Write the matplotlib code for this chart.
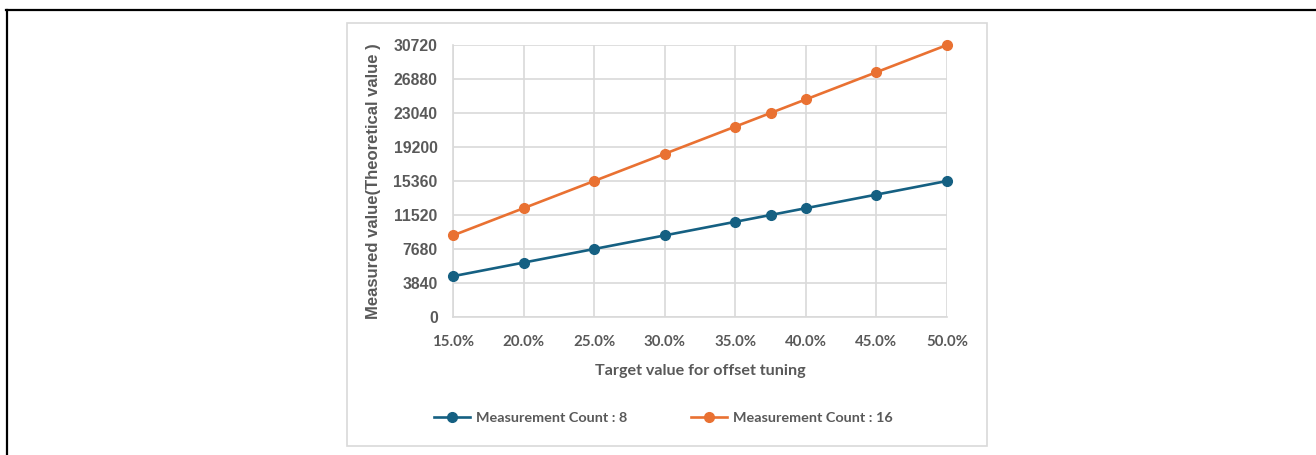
import matplotlib
matplotlib.use("Agg")
import matplotlib.pyplot as plt
from matplotlib.patches import Rectangle
from matplotlib.lines import Line2D
from matplotlib.ticker import FuncFormatter

# target ratio (%) and theoretical measured values
target = [15.0, 20.0, 25.0, 30.0, 35.0, 37.5, 40.0, 45.0, 50.0]
count8 = [4608, 6144, 7680, 9216, 10752, 11520, 12288, 13824, 15360]
count16 = [9216, 12288, 15360, 18432, 21504, 23040, 24576, 27648, 30720]

x_ticks = [15, 20, 25, 30, 35, 40, 45, 50]
y_ticks = [0, 3840, 7680, 11520, 15360, 19200, 23040, 26880, 30720]

blue = "#156082"
orange = "#E97132"
gray_txt = "#595959"
grid_c = "#D9D9D9"

W, H = 1316, 455
fig = plt.figure(figsize=(W / 100, H / 100), dpi=100)

# outer black frame (top and left only)
fig.add_artist(Line2D([6 / W, 1], [1 - 9.5 / H, 1 - 9.5 / H], color="black", lw=1.6))
fig.add_artist(Line2D([6.5 / W, 6.5 / W], [0, 1 - 9.5 / H], color="black", lw=1.6))

# chart area border
fig.add_artist(Rectangle((347 / W, (H - 446) / H), 640 / W, 423 / H,
                         fill=False, ec=grid_c, lw=1.2))

ax = fig.add_axes([453 / W, (H - 317) / H, 494 / W, 272 / H])

ax.plot(target, count8, color=blue, lw=1.9, marker="o", ms=7,
        label="Measurement Count : 8", zorder=3, clip_on=False)
ax.plot(target, count16, color=orange, lw=1.9, marker="o", ms=7,
        label="Measurement Count : 16", zorder=3, clip_on=False)

ax.set_xlim(15, 50)
ax.set_ylim(0, 30720)
ax.set_xticks(x_ticks)
ax.set_yticks(y_ticks)
ax.xaxis.set_major_formatter(FuncFormatter(lambda v, p: f"{v:.1f}%"))
ax.grid(True, color=grid_c, lw=1.2)
ax.set_axisbelow(True)
for s in ax.spines.values():
    s.set_visible(False)
ax.spines["left"].set_visible(True)
ax.spines["bottom"].set_visible(True)
ax.spines["left"].set_color(grid_c)
ax.spines["bottom"].set_color(grid_c)
ax.spines["left"].set_linewidth(1.2)
ax.spines["bottom"].set_linewidth(1.2)

ax.tick_params(length=0)
ax.tick_params(axis="y", pad=11)
ax.tick_params(axis="x", pad=13)
for t in ax.get_yticklabels():
    t.set_fontfamily("Liberation Sans")
    t.set_fontweight("bold")
    t.set_fontsize(11.3)
    t.set_color(gray_txt)
for t in ax.get_xticklabels():
    t.set_fontfamily("Lato")
    t.set_fontweight("bold")
    t.set_fontsize(10.8)
    t.set_color(gray_txt)

ax.set_xlabel("Target value for offset tuning", fontfamily="Lato",
              fontweight="bold", fontsize=11.6, color=gray_txt, labelpad=11)
ax.set_ylabel("Measured value(Theoretical value )", fontfamily="Liberation Sans",
              fontweight="bold", fontsize=12, color=gray_txt, labelpad=9)

fig.legend(loc="center", bbox_to_anchor=(663.5 / W, (H - 418) / H), ncol=2,
           frameon=False, handlelength=2.5, columnspacing=4.4, handletextpad=0.42,
           prop={"family": "Lato", "weight": "bold", "size": 10.4},
           labelcolor=gray_txt)

fig.savefig("out.png", dpi=100)
